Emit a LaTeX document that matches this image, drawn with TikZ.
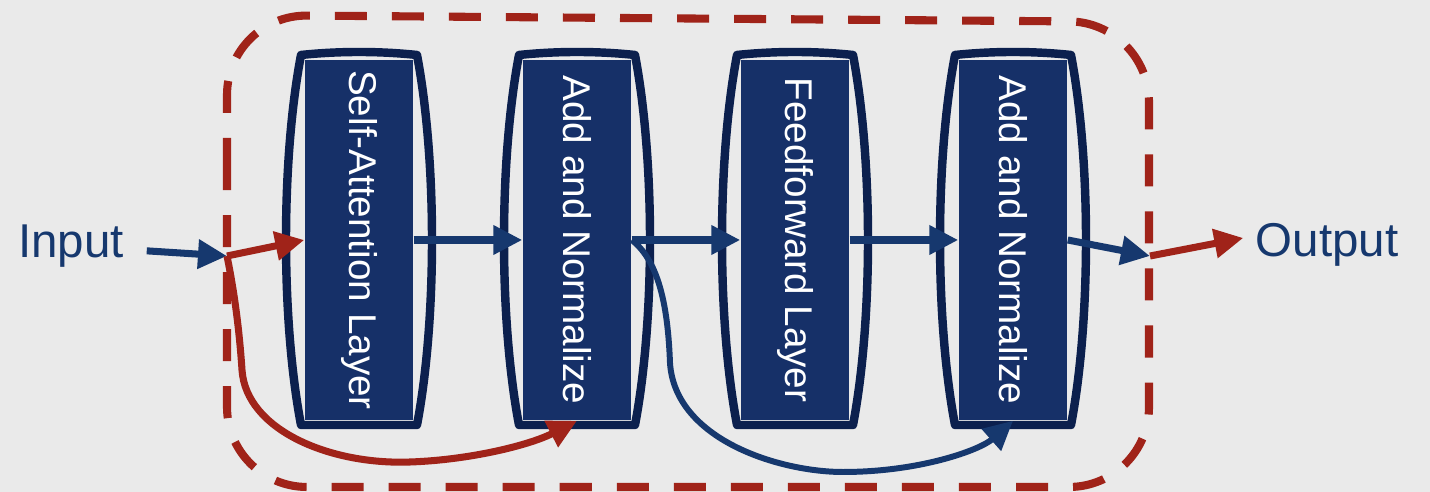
\documentclass[tikz,border=0pt]{standalone}
\usepackage{fontspec}
\setmainfont{Liberation Sans}
\usetikzlibrary{arrows.meta,calc}
\definecolor{bgray}{RGB}{234,234,234}
\definecolor{navyfill}{RGB}{22,48,104}
\definecolor{navyline}{RGB}{12,32,78}
\definecolor{flowblue}{RGB}{22,56,110}
\definecolor{resred}{RGB}{160,35,25}

\begin{document}
\begin{tikzpicture}[x=0.01cm,y=-0.01cm,>={Triangle[length=2.9mm,width=2.8mm]},
  block/.style={fill=navyfill,text=white,rotate=-90,minimum width=3.6cm,minimum height=1.08cm,inner sep=0pt,font=\fontsize{11}{13}\selectfont},
  barrel/.style={draw=navyline,line width=2.4pt,line join=round},
  lbl/.style={text=flowblue,font=\fontsize{13.5}{16}\selectfont},
  flow/.style={->,draw=flowblue,line width=2pt},
  res/.style={->,draw=resred,line width=2pt},
  frame/.style={draw=resred,line width=2.3pt,dash pattern=on 0.32cm off 0.25cm,rounded corners=0.8cm}]

\fill[bgray] (0,0) rectangle (1430,492);
\useasboundingbox (0,0) rectangle (1430,492);

% residual block frame
\draw[frame] (227,250) -- (227,15) -- (1149,22) -- (1149,487) -- (227,487) -- cycle;

\node[block] (sa) at (359,240) {Self-Attention Layer};
\node[block] (an1) at (577,240) {Add and Normalize};
\node[block] (ff) at (795,240) {Feedforward Layer};
\node[block] (an2) at (1013,240) {Add and Normalize};

\foreach \b in {sa,an1,ff,an2}
  \draw[barrel] ($(\b)+(-58,-185)$) .. controls +(38,-4) and +(-38,-4) .. ($(\b)+(58,-185)$)
    .. controls +(20,105) and +(20,-105) .. ($(\b)+(58,185)$) -- ($(\b)+(-58,185)$)
    .. controls +(-20,-105) and +(-20,105) .. ($(\b)+(-58,-185)$) -- cycle;

\node[lbl] (in) at (71,246) {Input};
\node[lbl] (out) at (1327,245) {Output};
\coordinate (j1) at (227,256);
\coordinate (j2) at (1150,256);

\draw[flow,shorten <=3pt] (in) -- (j1);
\draw[res] (j1) -- (sa.south);
\draw[flow] (sa) -- (an1);
\draw[flow] (an1) -- (ff);
\draw[flow] (ff) -- (an2);
\draw[flow] (an2.north) -- (j2);
\draw[res] (j2) -- ([yshift=2pt]out.west);

% skip connections
\draw[res] (j1) .. controls (236,300) and (240,340) .. (242,370)
  .. controls (246,430) and (330,465) .. (410,462)
  .. controls (470,460) and (530,445) .. (an1.east);
\draw[flow,line width=1.7pt] (an1.north) .. controls (660,262) and (668,310) .. (670,363)
  .. controls (675,440) and (780,472) .. (843,472)
  .. controls (920,472) and (980,450) .. (an2.east);
\end{tikzpicture}
\end{document}
